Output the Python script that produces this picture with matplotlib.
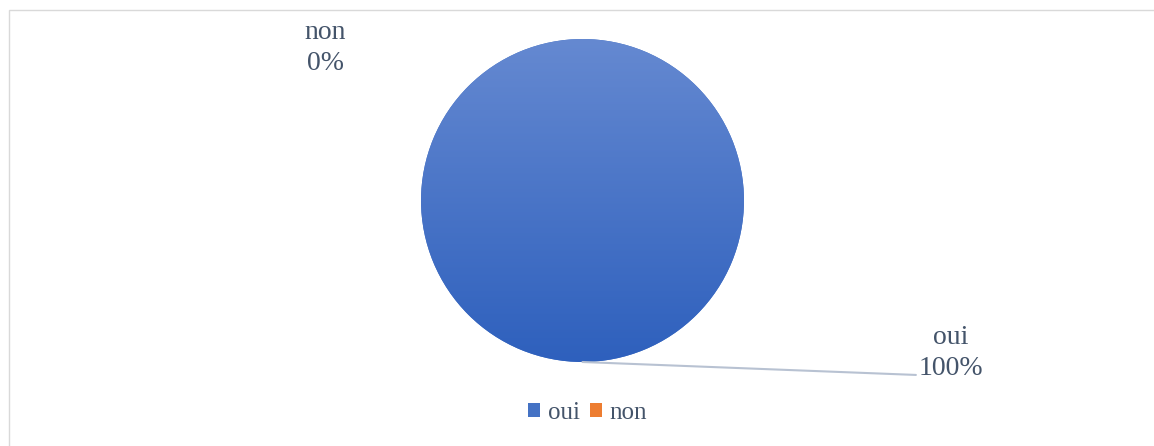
import numpy as np
import matplotlib
matplotlib.use("Agg")
import matplotlib.pyplot as plt
from matplotlib.patches import Rectangle
from matplotlib.colors import LinearSegmentedColormap

plt.rcParams["font.family"] = ["Liberation Serif", "DejaVu Serif"]

categories = ["oui", "non"]
values = [100, 0]
colors = ["#4472c4", "#ed7d31"]

TEXT_COLOR = "#44546a"
W, H = 1154, 446

fig = plt.figure(figsize=(W / 100, H / 100), dpi=100)
fig.patch.set_facecolor("white")
ax = fig.add_axes([0, 0, 1, 1])

# chart frame (only top/left visible in the reference)
fig.patches.append(Rectangle((8.5 / W, -0.1), 1.2, (H - 9.5) / H + 0.1,
                             transform=fig.transFigure, fill=False,
                             edgecolor="#d9d9d9", linewidth=1))

cx, cy, r = 582.5, H - 200.5, 161.5
wedges, _ = ax.pie(values, colors=colors, startangle=90, counterclock=False,
                   center=(cx, cy), radius=r, frame=True,
                   wedgeprops=dict(linewidth=0))
ax.set_xlim(0, W)
ax.set_ylim(0, H)
ax.set_aspect("equal")
ax.axis("off")

# vertical gradient on the main slice
cmap = LinearSegmentedColormap.from_list("g", ["#2e60bd", "#6589d1"])
grad = np.linspace(0, 1, 256).reshape(-1, 1)
im = ax.imshow(grad, cmap=cmap, origin="lower", aspect="auto",
               extent=(cx - r, cx + r, cy - r, cy + r), zorder=2)
im.set_clip_path(wedges[0])

# data labels
pcts = [f"{v / sum(values) * 100:.0f}%" for v in values]
ax.annotate(f"{categories[0]}\n{pcts[0]}", xy=(cx, cy - r), xytext=(951, H - 353),
            ha="center", va="center", fontsize=20, color=TEXT_COLOR,
            linespacing=1.27,
            arrowprops=dict(arrowstyle="-", color="#b8c2d2", lw=1.5,
                            shrinkA=0, shrinkB=0,
                            relpos=(0.0, 0.1)))
ax.text(325, H - 48, f"{categories[1]}\n{pcts[1]}", ha="center", va="center",
        fontsize=20, color=TEXT_COLOR, linespacing=1.27)

leg = ax.legend(wedges, categories, loc="center", bbox_to_anchor=(0.509, 1 - 413 / H),
                ncol=2, frameon=False, fontsize=18, handlelength=0.5,
                handleheight=0.5, handletextpad=0.3, columnspacing=0.4,
                labelcolor=TEXT_COLOR)

fig.savefig("out.png", dpi=100, facecolor="white")
